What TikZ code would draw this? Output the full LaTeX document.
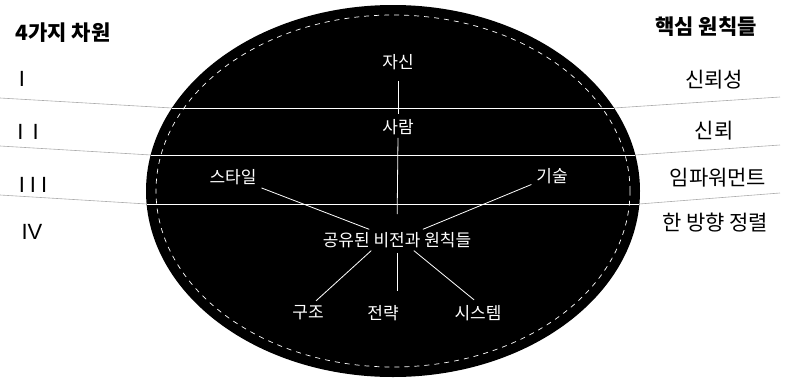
\documentclass[tikz,border=0pt]{standalone}
\usepackage{fontspec}
\newfontfamily\kr{Noto Sans CJK KR}
\newfontfamily\rmn{Liberation Sans}
\begin{document}
\begin{tikzpicture}[x=1pt,y=-1pt,
  lab/.style={font=\kr\fontsize{17}{17}\selectfont, text=white, inner sep=2pt},
  side/.style={font=\kr\fontsize{21}{21}\selectfont, inner sep=1pt},
  head/.style={font=\kr\bfseries\fontsize{21}{21}\selectfont, inner sep=1pt},
  num/.style={font=\rmn\fontsize{22}{22}\selectfont, inner sep=1pt},
  outline/.style={gray!65, line width=0.6pt},
  inline/.style={white, line width=0.8pt},
  conn/.style={white, line width=0.8pt}]
\useasboundingbox (0,0) rectangle (793,378);
% band lines outside the ellipse
\draw[outline] (0,98) -- (172,108);  \draw[outline] (614,108) -- (780,97);
\draw[outline] (0,146) -- (151,155); \draw[outline] (635,155) -- (780,145);
\draw[outline] (0,195) -- (147,204); \draw[outline] (639,204) -- (780,193);
% ellipse
\fill[black] (393,191) ellipse [x radius=247pt, y radius=186pt];
\draw[white, line width=0.7pt, dash pattern=on 5pt off 5pt] (393,191) ellipse [x radius=237pt, y radius=176pt];
% band lines inside
\draw[inline] (172,108) -- (614,108);
\draw[inline] (151,155) -- (635,155);
\draw[inline] (147,204) -- (639,204);
% inner labels
\node[lab] (jasin) at (398,62) {자신};
\node[lab] (saram) at (398,127) {사람};
\node[lab] (style) at (233,177) {스타일};
\node[lab] (gisul) at (552,176) {기술};
\node[lab] (center) at (397,240) {공유된 비전과 원칙들};
\node[lab] (gujo) at (308,313) {구조};
\node[lab] (jr) at (383,313) {전략};
\node[lab] (sys) at (478,313) {시스템};
% connectors
\draw[conn, shorten <=9pt, shorten >=3pt] (jasin.south) -- (saram.north);
\draw[conn, shorten <=1pt, shorten >=16pt] (saram.south) -- (center.north);
\draw[conn, shorten <=3pt, shorten >=12pt] (center.south) -- ([xshift=14pt]jr.north);
\draw[conn, shorten <=3pt, shorten >=2pt] (style) -- (center);
\draw[conn, shorten <=3pt, shorten >=2pt] (gisul) -- (center);
\draw[conn, shorten <=4pt, shorten >=1pt] ([xshift=5pt]gujo.north) -- ([xshift=-25pt]center.south);
\draw[conn, shorten <=1pt, shorten >=5pt] ([xshift=16pt]center.south) -- (sys.north);
% side labels
\node[head] (title) at (63,33) {4가지 차원};
\node[head] (core) at (706,27) {핵심 원칙들};
\node[side] (r1) at (714,80) {신뢰성};
\node[side] (r2) at (714,131) {신뢰};
\node[side] (r3) at (718,178) {임파워먼트};
\node[side] (r4) at (715,223) {한 방향 정렬};
\node[num] (n1) at (22,79) {I};
\node[num] (n2) at (28,132) {I\hspace{9pt}I};
\node[num] (n3) at (33,185) {I\hspace{5pt}I\hspace{5pt}I};
\node[num] (n4) at (32,232) {IV};
\end{tikzpicture}
\end{document}
